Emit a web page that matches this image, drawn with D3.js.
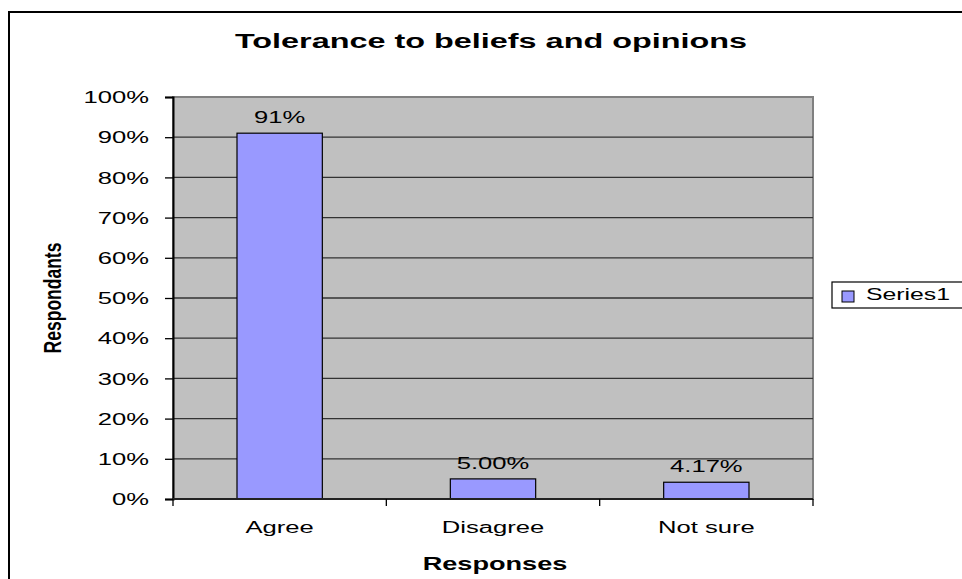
<!DOCTYPE html>
<html>
<head>
<meta charset="utf-8">
<script src="https://cdn.jsdelivr.net/npm/d3@7"></script>
<style>
  html, body { margin: 0; padding: 0; background: #fff; }
  svg { display: block; }
  text { font-family: "Liberation Sans", Arial, Helvetica, sans-serif; fill: #000; }
</style>
</head>
<body>
<svg id="chart" width="962" height="579"></svg>
<script>
// Survey responses on tolerance to beliefs and opinions
const categories = ["Agree", "Disagree", "Not sure"];
const values = [0.91, 0.05, 0.0417];
const valueLabels = ["91%", "5.00%", "4.17%"];
const yTicks = [0, 0.1, 0.2, 0.3, 0.4, 0.5, 0.6, 0.7, 0.8, 0.9, 1.0];
const seriesName = "Series1";
const titleText = "Tolerance to beliefs and opinions";
const xTitle = "Responses";
const yTitle = "Respondants";

const svg = d3.select("#chart");
const plot = { left: 173, top: 97, right: 813, bottom: 499 };
const SX = 1.6;   // wide letterforms
const FS = 16;

// chart frame
svg.append("rect")
  .attr("x", 9).attr("y", 12).attr("width", 1000).attr("height", 620)
  .attr("fill", "#fff").attr("stroke", "#000").attr("stroke-width", 2);

const x = d3.scaleBand()
  .domain(categories)
  .range([plot.left, plot.right])
  .paddingInner(0.6)
  .paddingOuter(0.3);

const y = d3.scaleLinear()
  .domain([0, 1])
  .range([plot.bottom, plot.top]);

// plot area
svg.append("rect")
  .attr("x", plot.left).attr("y", plot.top)
  .attr("width", plot.right - plot.left).attr("height", plot.bottom - plot.top)
  .attr("fill", "#c0c0c0").attr("stroke", "#808080").attr("stroke-width", 2);

// horizontal gridlines
svg.append("g")
  .selectAll("line")
  .data(yTicks.filter(t => t > 0 && t < 1))
  .join("line")
  .attr("x1", plot.left).attr("x2", plot.right)
  .attr("y1", d => y(d)).attr("y2", d => y(d))
  .attr("stroke", "#333").attr("stroke-width", 1.3);

// bars
svg.append("g")
  .selectAll("rect")
  .data(values)
  .join("rect")
  .attr("x", (d, i) => x(categories[i]))
  .attr("y", d => y(d))
  .attr("width", x.bandwidth())
  .attr("height", d => y(0) - y(d))
  .attr("fill", "#9999ff")
  .attr("stroke", "#000")
  .attr("stroke-width", 1.2);

// value labels
svg.append("g")
  .selectAll("text")
  .data(values)
  .join("text")
  .attr("transform", (d, i) =>
    `translate(${x(categories[i]) + x.bandwidth() / 2},${y(d) - 10}) scale(${SX},1)`)
  .attr("text-anchor", "middle")
  .attr("font-size", FS)
  .text((d, i) => valueLabels[i]);

// y axis
const yAxis = svg.append("g")
  .attr("transform", `translate(${plot.left},0)`)
  .call(d3.axisLeft(y).tickValues(yTicks).tickFormat(d3.format(".0%")).tickSize(8));
yAxis.select(".domain").attr("stroke", "#000").attr("stroke-width", 2);
yAxis.selectAll(".tick line").attr("stroke", "#000").attr("stroke-width", 1.3);
yAxis.selectAll(".tick text")
  .attr("x", null).attr("dy", "0.36em")
  .attr("transform", `translate(-24,0) scale(${SX},1)`)
  .attr("font-size", FS)
  .attr("font-family", null)
  .attr("fill", "#000");

// x axis with ticks on category boundaries
const xAxis = svg.append("g")
  .attr("transform", `translate(0,${plot.bottom})`);
xAxis.append("line")
  .attr("x1", plot.left).attr("x2", plot.right)
  .attr("stroke", "#222").attr("stroke-width", 2);
const boundaries = categories.map(c => x(c) - x.step() * x.paddingOuter())
  .concat([plot.right]);
xAxis.selectAll("line.tick")
  .data(boundaries)
  .join("line")
  .attr("class", "tick")
  .attr("x1", d => d).attr("x2", d => d)
  .attr("y1", 0).attr("y2", 7)
  .attr("stroke", "#000").attr("stroke-width", 1.3);
svg.append("g")
  .selectAll("text")
  .data(categories)
  .join("text")
  .attr("transform", d => `translate(${x(d) + x.bandwidth() / 2},533) scale(${SX},1)`)
  .attr("text-anchor", "middle")
  .attr("font-size", FS)
  .text(d => d);

// titles
svg.append("text")
  .attr("transform", `translate(491,48) scale(1.62,1)`)
  .attr("text-anchor", "middle")
  .attr("font-size", 20)
  .attr("font-weight", "bold")
  .text(titleText);

svg.append("text")
  .attr("transform", `translate(495,570) scale(1.55,1)`)
  .attr("text-anchor", "middle")
  .attr("font-size", 17.5)
  .attr("font-weight", "bold")
  .text(xTitle);

svg.append("text")
  .attr("transform", `translate(61,298) scale(1.38,1) rotate(-90)`)
  .attr("text-anchor", "middle")
  .attr("font-size", 17.5)
  .attr("font-weight", "bold")
  .text(yTitle);

// legend
const legend = svg.append("g");
legend.append("rect")
  .attr("x", 832).attr("y", 282).attr("width", 200).attr("height", 26)
  .attr("fill", "#fff").attr("stroke", "#000").attr("stroke-width", 1.2);
legend.append("rect")
  .attr("x", 842).attr("y", 291).attr("width", 12).attr("height", 11)
  .attr("fill", "#9999ff").attr("stroke", "#000").attr("stroke-width", 1);
legend.append("text")
  .attr("transform", `translate(866,300) scale(1.55,1)`)
  .attr("font-size", FS)
  .text(seriesName);
</script>
</body>
</html>
